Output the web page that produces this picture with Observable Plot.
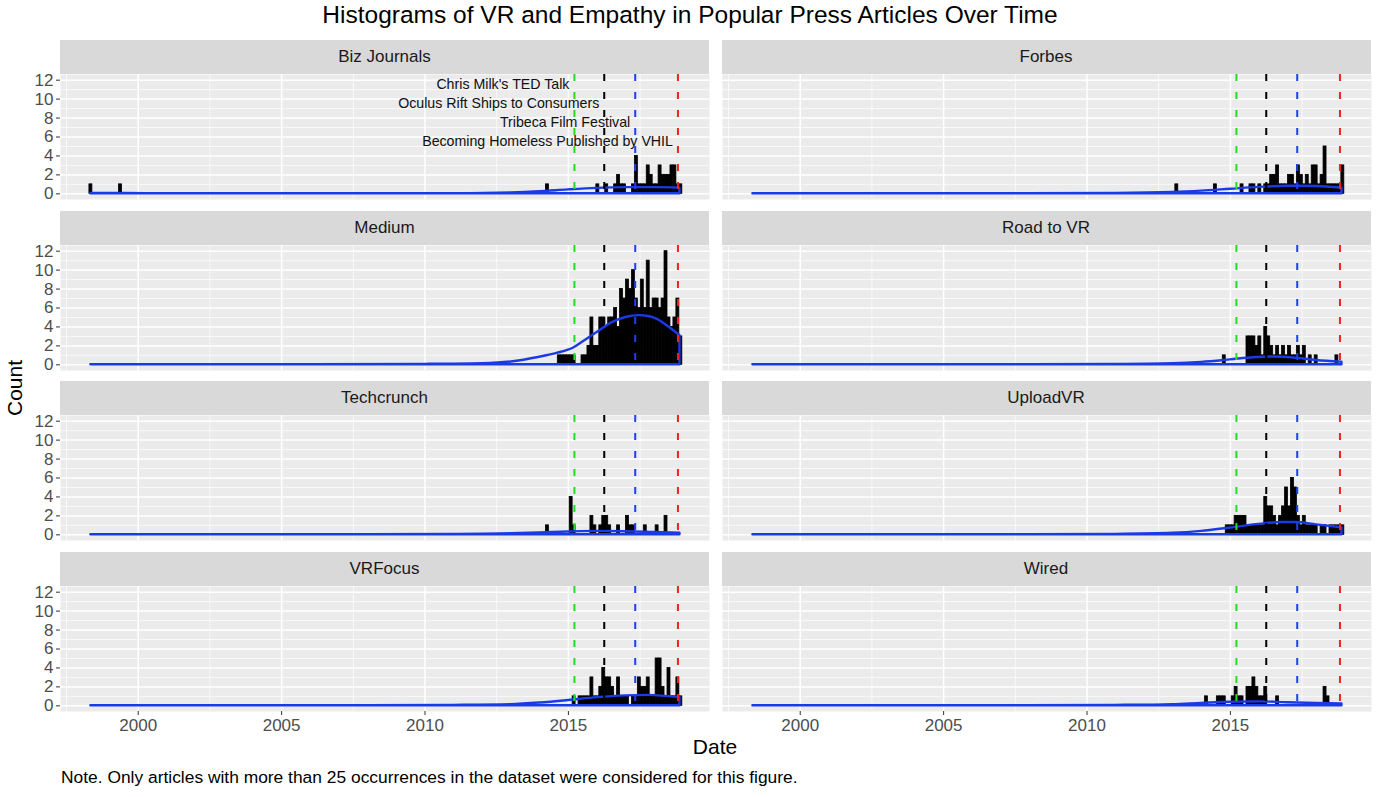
<!DOCTYPE html>
<html>
<head>
<meta charset="utf-8">
<script src="https://cdn.jsdelivr.net/npm/d3@7"></script>
<script src="https://cdn.jsdelivr.net/npm/@observablehq/plot@0.6"></script>
<style>
  body { margin: 0; background: #fff; font-family: "Liberation Sans", Arial, sans-serif; }
  #root { position: relative; width: 1376px; height: 797px; overflow: hidden; background: #fff; }
  .strip { position: absolute; background: #D9D9D9; color: #1A1A1A; font-size: 17px;
           display: flex; align-items: center; justify-content: center; }
  .panel { position: absolute; }
  .txt { position: absolute; white-space: nowrap; color: #000; line-height: 1; }
  svg [aria-label="y-axis tick"], svg [aria-label="x-axis tick"] { stroke: #333; }
</style>
</head>
<body>
<div id="root"></div>
<script>
// ---------------- data ----------------
const outlets = ["Biz Journals", "Forbes", "Medium", "Road to VR", "Techcrunch", "UploadVR", "VRFocus", "Wired"];

// histogram bins (200 bins over the data range); centre of first bin and bin width in years
const binFirst = 1998.35;
const binWidth = 0.10337;

// runs of consecutive bins: [centre year of first bin, counts]
const bizJournals = [[1998.35, [1]], [1999.38, [1]], [2014.27, [1]],
  [2016.03, [1,0,0,1,0,0,1,2,1,1,0,0,1,4,1,1,1,3,2,1,1,3,2,2,2,3,3,1,1]]];
const forbes = [[2013.13, [1]], [2014.48, [1]],
  [2015.41, [1,0,0,1,1,0,1,0,1,1,2,2,3,1,1,1,2,2,1,3,2,1,2,1,3,3,1,2,5,1,1,1,1,1,3]]];
const medium = [[2014.68, [1,1,1,1,1,1,0,0,1,1,2,5,2,2,5,5,4,5,5,6,4,8,7,9,8,10,7,6,9,6,11,6,7,7,6,7,12,5,4,5,7,3]]];
const roadToVR = [[2014.79, [1]],
  [2015.61, [3,3,3,2,3,1,4,3,2,1,2,1,2,1,2,1,1,2,1,2,0,1,0,1]], [2018.71, [1]]];
const techcrunch = [[2014.27, [1]], [2015.10, [4,1]],
  [2015.82, [2,1,0,1,2,2,1,0,0,1,0,0,2,1,1,0,0,0,1,0,0,0,1,0,0,2]]];
const uploadVR = [[2014.89, [1,1,1,2,2,2,2,1,1,1,1,1,1,4,3,3,2,1,2,3,5,3,6,5,2,1,2,1,1,1,1,0,1,1,0,1,1,1,1,1]]];
const vrFocus = [[2015.20, [1,0,1,1,1,1,3,1,1,2,4,3,3,2,1,3,1,1,1,0,1,1,3,2,2,3,1,1,5,5,2,1,4,1,1,3,1]]];
const wired = [[2014.17, [1]], [2014.58, [1,1,1]],
  [2015.10, [1,2,1,1,0,2,2,3,2,1,1,2,0,0,0,1]], [2018.30, [2,1]]];

// density curves (scaled to counts): [year, value]
const densBiz = [[1998.35,0.03],[1999.5,0.03],[2001,0.01],[2008,0],[2011,0.02],[2013,0.1],[2014,0.22],[2015,0.42],[2016,0.58],[2017,0.65],[2018,0.65],[2018.89,0.6]];
const densForbes = [[1998.35,0],[2008,0.01],[2011,0.04],[2013,0.14],[2014,0.28],[2015,0.48],[2016,0.68],[2017,0.8],[2018,0.78],[2018.89,0.62]];
const densMedium = [[1998.35,0],[2006,0.01],[2010,0.05],[2012,0.12],[2013,0.3],[2014,0.8],[2014.6,1.2],[2015.2,1.8],[2015.6,2.6],[2016,3.4],[2016.5,4.4],[2017,5.0],[2017.45,5.2],[2017.8,5.1],[2018.1,4.8],[2018.5,4.0],[2018.89,3.1]];
const densRoad = [[1998.35,0],[2008,0.01],[2011,0.04],[2013,0.12],[2014,0.26],[2015,0.52],[2015.8,0.75],[2016.5,0.82],[2017.2,0.72],[2018,0.46],[2018.89,0.28]];
const densTech = [[1998.35,0],[2008,0.01],[2011,0.04],[2013,0.11],[2014,0.2],[2015,0.3],[2016,0.36],[2017,0.33],[2018,0.24],[2018.89,0.16]];
const densUpload = [[1998.35,0],[2008,0.01],[2011,0.05],[2013,0.16],[2014,0.36],[2015,0.72],[2016,1.1],[2016.8,1.3],[2017.3,1.3],[2018,1.05],[2018.89,0.75]];
const densVRF = [[1998.35,0],[2008,0.01],[2011,0.05],[2013,0.13],[2014,0.3],[2015,0.56],[2016,0.86],[2017,1.05],[2017.8,1.1],[2018.4,1.0],[2018.89,0.88]];
const densWired = [[1998.35,0],[2008,0.01],[2011,0.05],[2013,0.13],[2014,0.26],[2015,0.38],[2016,0.42],[2017,0.33],[2018,0.25],[2018.89,0.2]];

// events
const eventLabels = ["Chris Milk's TED Talk", "Oculus Rift Ships to Consumers", "Tribeca Film Festival", "Becoming Homeless Published by VHIL"];
const eventDates = [2015.21, 2016.25, 2017.33, 2018.82];
const eventColors = ["#22dd22", "#000000", "#1f3ff2", "#f02222"];
const eventLabelY = [11.5, 9.5, 7.5, 5.5];

// axes
const yMajor = [0, 2, 4, 6, 8, 10, 12];
const yMinor = [1, 3, 5, 7, 9, 11];
const xMajor = [2000, 2005, 2010, 2015];
const xMinor = [1997.5, 2002.5, 2007.5, 2012.5, 2017.5];
const xDomain = [1997.29, 2019.92];
const yDomain = [-0.6, 12.6];

const texts = {
  title: "Histograms of VR and Empathy in Popular Press Articles Over Time",
  xLabel: "Date",
  yLabel: "Count",
  caption: "Note. Only articles with more than 25 occurrences in the dataset were considered for this figure."
};

// ---------------- build ----------------
const histByOutlet = [bizJournals, forbes, medium, roadToVR, techcrunch, uploadVR, vrFocus, wired];
const densByOutlet = [densBiz, densForbes, densMedium, densRoad, densTech, densUpload, densVRF, densWired];

function binsFromRuns(runs) {
  const out = [];
  for (const [start, counts] of runs) {
    const k0 = Math.round((start - binFirst) / binWidth);
    counts.forEach((c, j) => {
      if (c > 0) {
        const centre = binFirst + (k0 + j) * binWidth;
        out.push({x1: centre - binWidth / 2, x2: centre + binWidth / 2, count: c});
      }
    });
  }
  return out;
}

const events = eventLabels.map((label, i) => ({label, date: eventDates[i], color: eventColors[i], y: eventLabelY[i]}));

const root = document.getElementById("root");
const PW = 649, PH = 125, STRIP = 34;
const colLeft = [60, 721.5];
const rowTop = [74, 244.5, 415, 585.5];

outlets.forEach((name, i) => {
  const col = i % 2, row = Math.floor(i / 2);
  const isLeft = col === 0, isBottom = row === 3;

  const strip = document.createElement("div");
  strip.className = "strip";
  strip.style.left = colLeft[col] + "px";
  strip.style.top = (rowTop[row] - STRIP) + "px";
  strip.style.width = PW + "px";
  strip.style.height = STRIP + "px";
  strip.textContent = name;
  root.appendChild(strip);

  const marks = [
    Plot.frame({fill: "#EBEBEB", stroke: "none"}),
    Plot.ruleY(yMinor, {stroke: "#fff", strokeWidth: 0.7}),
    Plot.ruleX(xMinor, {stroke: "#fff", strokeWidth: 0.7}),
    Plot.ruleY(yMajor, {stroke: "#fff", strokeWidth: 1.5}),
    Plot.ruleX(xMajor, {stroke: "#fff", strokeWidth: 1.5}),
    Plot.rect(binsFromRuns(histByOutlet[i]), {x1: "x1", x2: "x2", y1: 0, y2: "count", fill: "#000", stroke: "#000", strokeWidth: 0.8}),
    Plot.areaY(densByOutlet[i], {x: d => d[0], y: d => d[1], curve: "monotone-x", fill: "none", stroke: "#1a3ae6", strokeWidth: 2.4}),
    ...events.map(e => Plot.ruleX([e.date], {stroke: e.color, strokeWidth: 2, strokeDasharray: "7,11"}))
  ];
  if (i === 0) {
    marks.push(Plot.text(events, {x: "date", y: "y", text: "label", textAnchor: "end", dx: -5, fontSize: 14.2, fill: "#111"}));
  }
  const yOpts = {domain: yDomain};
  const xOpts = {domain: xDomain};
  if (isLeft) {
    marks.push(Plot.axisY(yMajor, {tickSize: 4, tickPadding: 3, fontSize: 17, color: "#4D4D4D", label: null}));
  } else yOpts.axis = null;
  if (isBottom) {
    marks.push(Plot.axisX(xMajor, {tickSize: 4, tickPadding: 3, fontSize: 17, color: "#4D4D4D", label: null, tickFormat: d => String(d)}));
  } else xOpts.axis = null;

  const chart = Plot.plot({
    width: 60 + PW,
    height: PH + (isBottom ? 40 : 0),
    marginLeft: 60, marginRight: 0, marginTop: 0, marginBottom: isBottom ? 40 : 0,
    x: xOpts, y: yOpts,
    style: {background: "transparent", fontFamily: "Liberation Sans, Arial, sans-serif", overflow: "visible"},
    marks
  });
  const wrap = document.createElement("div");
  wrap.className = "panel";
  wrap.style.left = (colLeft[col] - 60) + "px";
  wrap.style.top = rowTop[row] + "px";
  wrap.appendChild(chart);
  root.appendChild(wrap);
});

function addText(t, css) {
  const d = document.createElement("div");
  d.className = "txt";
  d.textContent = t;
  Object.assign(d.style, css);
  root.appendChild(d);
}
addText(texts.title, {left: "690px", top: "3px", transform: "translateX(-50%)", fontSize: "24.5px", color: "#000"});
addText(texts.xLabel, {left: "715px", top: "736px", transform: "translateX(-50%)", fontSize: "21px"});
addText(texts.yLabel, {left: "14px", top: "388px", transform: "translate(-50%,-50%) rotate(-90deg)", fontSize: "21px"});
addText(texts.caption, {left: "61px", top: "769px", fontSize: "17.4px"});
</script>
</body>
</html>
